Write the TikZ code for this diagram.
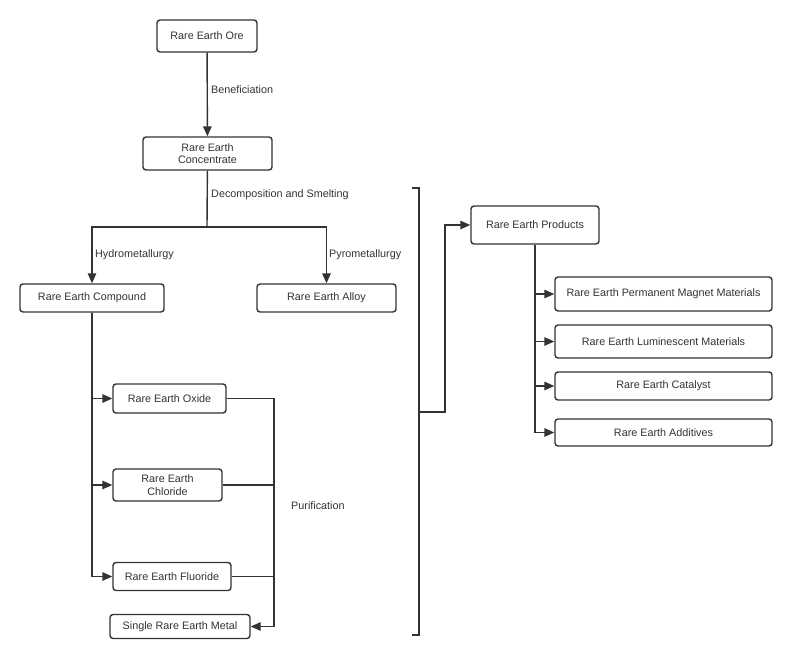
\documentclass[tikz,border=0pt]{standalone}
\usepackage{fontspec}
\setmainfont{Liberation Sans}
\usetikzlibrary{arrows.meta}
\definecolor{ln}{HTML}{333333}
\tikzset{
  box/.style={draw=ln, line width=1.4pt, rounded corners=3pt, fill=white, inner sep=0pt, align=center, text=ln, font=\fontsize{10.8}{12.5}\selectfont},
  conn/.style={draw=ln, line width=1.4pt},
  arr/.style={conn, -{Triangle[length=10pt,width=8.5pt]}},
  lbl/.style={text=ln, font=\fontsize{10.8}{12.5}\selectfont, inner sep=0pt}
}
\begin{document}
\begin{tikzpicture}[x=1pt,y=-1pt]
\useasboundingbox (0,0) rectangle (792,658);
% nodes
\node[box, minimum width=100pt, minimum height=32pt] (ore) at (207,36) {Rare Earth Ore};
\node[box, minimum width=129pt, minimum height=33pt] (conc) at (207.5,153.5) {Rare Earth\\Concentrate};
\node[box, minimum width=144pt, minimum height=28pt] (comp) at (92,298) {Rare Earth Compound};
\node[box, minimum width=139pt, minimum height=28pt] (alloy) at (326.5,298) {Rare Earth Alloy};
\node[box, minimum width=113pt, minimum height=29pt] (oxide) at (169.5,398.5) {Rare Earth Oxide};
\node[box, minimum width=109pt, minimum height=32pt] (chlor) at (167.5,485) {Rare Earth\\Chloride};
\node[box, minimum width=118pt, minimum height=28pt] (fluor) at (172,576.5) {Rare Earth Fluoride};
\node[box, minimum width=140pt, minimum height=24pt] (single) at (180,626.5) {Single Rare Earth Metal};
\node[box, minimum width=128pt, minimum height=38pt] (prod) at (535,225) {Rare Earth Products};
\node[box, minimum width=217pt, minimum height=34pt] (pm) at (663.5,294) {Rare Earth Permanent Magnet Materials};
\node[box, minimum width=217pt, minimum height=33pt] (lum) at (663.5,341.5) {Rare Earth Luminescent Materials};
\node[box, minimum width=217pt, minimum height=28pt] (cat) at (663.5,386) {Rare Earth Catalyst};
\node[box, minimum width=217pt, minimum height=27pt] (add) at (663.5,432.5) {Rare Earth Additives};
% labels
\node[lbl, anchor=west] (lb1) at (211,90) {Beneficiation};
\node[lbl, anchor=west] (lb2) at (211,195) {Decomposition and Smelting};
\node[lbl, anchor=west] (lb3) at (95,255) {Hydrometallurgy};
\node[lbl, anchor=west] (lb4) at (329,255) {Pyrometallurgy};
\node[lbl, anchor=west] (lb5) at (291,506) {Purification};
% connectors
\draw[arr] (ore) -- (conc);
\coordinate (j) at (207,227);
\draw[conn] (conc) -- (j);
\draw[arr] (j) -| (comp);
\draw[arr] (j) -| (alloy);
\draw[arr] (comp.south) |- (oxide.west);
\draw[arr] (comp.south) |- (chlor.west);
\draw[arr] (comp.south) |- (fluor.west);
\coordinate (p) at (274,626.5);
\draw[conn] (oxide.east) -| (p);
\draw[conn] (chlor.east) -- (chlor.east -| p);
\draw[conn] (fluor.east) -- (fluor.east -| p);
\draw[arr] (p) -- (single.east);
% bracket
\coordinate (bt) at (412,188);
\coordinate (bb) at (412,635);
\coordinate (bm) at (419,412);
\draw[conn] (bt) -- (419,188) -- (419,635) -- (bb);
\draw[arr] (bm) -- (445,412) |- (prod.west);
\draw[arr] (prod.south) |- (pm.west);
\draw[arr] (prod.south) |- (lum.west);
\draw[arr] (prod.south) |- (cat.west);
\draw[arr] (prod.south) |- (add.west);
\end{tikzpicture}
\end{document}
